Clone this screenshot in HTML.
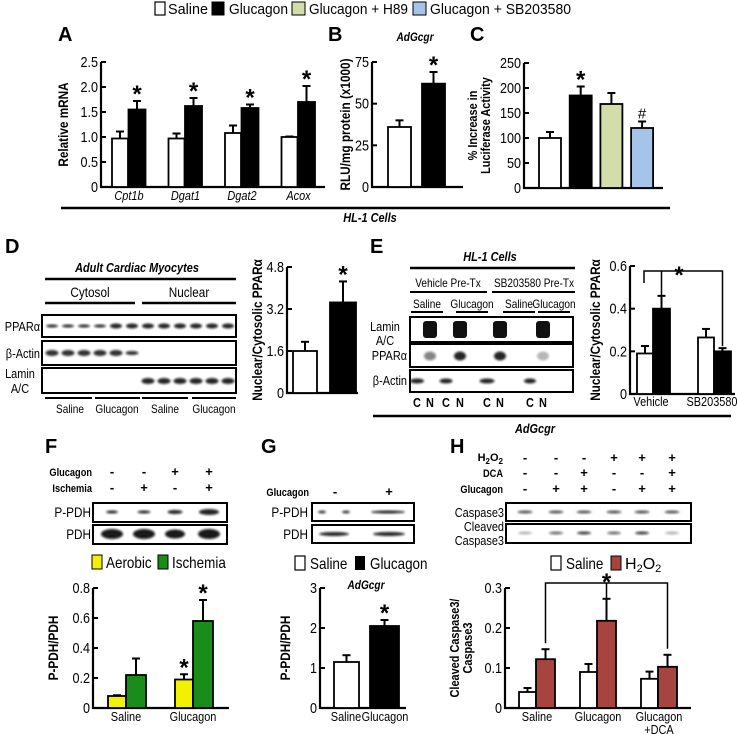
<!DOCTYPE html>
<html><head><meta charset="utf-8"><style>
html,body{margin:0;padding:0;background:#fff}
svg{display:block;font-family:"Liberation Sans",Arial,sans-serif}
</style></head><body>
<svg id="fig" width="737" height="734" viewBox="0 0 737 734" xmlns="http://www.w3.org/2000/svg">
<defs><filter id="blur" x="-20%" y="-50%" width="140%" height="200%"><feGaussianBlur stdDeviation="1.1"/></filter></defs>
<g font-size="15">
<rect x="155" y="2" width="10" height="13" fill="#fff" stroke="#000" stroke-width="1.2"/><text class="fixed" x="168" y="14" textLength="40" lengthAdjust="spacingAndGlyphs">Saline</text>
<rect x="212" y="2" width="12" height="13" fill="#000" stroke="#000"/><text class="fixed" x="229" y="14" textLength="59" lengthAdjust="spacingAndGlyphs">Glucagon</text>
<rect x="292" y="2" width="13" height="13" fill="#d2ddaa" stroke="#000"/><text class="fixed" x="309" y="14" textLength="99" lengthAdjust="spacingAndGlyphs">Glucagon + H89</text>
<rect x="413" y="2" width="13" height="13" fill="#a6c4ea" stroke="#000"/><text class="fixed" x="430" y="14" textLength="141" lengthAdjust="spacingAndGlyphs">Glucagon + SB203580</text>
</g>
<g font-weight="bold" font-size="20">
<text class="fixed" x="58" y="41">A</text><text class="fixed" x="328" y="41">B</text><text class="fixed" x="470" y="41">C</text>
<text class="fixed" x="5" y="253">D</text><text class="fixed" x="370" y="253">E</text>
<text class="fixed" x="45" y="453">F</text><text class="fixed" x="261" y="453">G</text><text class="fixed" x="450" y="453">H</text>
</g>
<g id="static"></g>
<g id="charts"></g>
</svg>
<script>
// ---------- chart data ----------
const aCategories = ["Cpt1b","Dgat1","Dgat2","Acox"];
const aSaline = [0.97,0.97,1.08,1.0];
const aSalineErr = [0.14,0.1,0.15,0.01];
const aGlucagon = [1.55,1.62,1.58,1.7];
const aGlucagonErr = [0.17,0.16,0.07,0.32];
const aTicks = ["0","0.5","1.0","1.5","2.0","2.5"];
const bValues = [36,62];
const bErr = [4,7];
const bTicks = ["0","25","50","75"];
const cValues = [100,185,168,120];
const cErr = [12,18,22,13];
const cTicks = ["0","50","100","150","200","250"];
const dValues = [1.6,3.45];
const dErr = [0.35,0.8];
const dTicks = ["0","1.6","3.2","4.8"];
const eCategories = ["Vehicle","SB203580"];
const eSaline = [0.19,0.265];
const eSalineErr = [0.035,0.04];
const eGlucagon = [0.40,0.20];
const eGlucagonErr = [0.06,0.015];
const eTicks = ["0","0.2","0.4","0.6"];
const fCategories = ["Saline","Glucagon"];
const fAerobic = [0.08,0.19];
const fAerobicErr = [0.005,0.035];
const fIschemia = [0.22,0.58];
const fIschemiaErr = [0.11,0.14];
const fTicks = ["0","0.2","0.4","0.6","0.8"];
const gCategories = ["Saline","Glucagon"];
const gValues = [1.15,2.05];
const gErr = [0.17,0.15];
const gTicks = ["0","1","2","3"];
const hCategories = ["Saline","Glucagon","Glucagon"];
const hSaline = [0.04,0.09,0.073];
const hSalineErr = [0.01,0.02,0.018];
const hH2O2 = [0.122,0.218,0.103];
const hH2O2Err = [0.025,0.055,0.03];
const hTicks = ["0","0.1","0.2","0.3"];

const NS="http://www.w3.org/2000/svg";
function mk(tag,attrs,parent,text){const e=document.createElementNS(NS,tag);for(const k in attrs)e.setAttribute(k,attrs[k]);if(text!==undefined)e.textContent=text;parent.appendChild(e);return e;}
const charts=document.getElementById('charts');
const st=document.getElementById('static');
function starTxt(g,x,y){const t=mk('text',{x:x,y:y,'text-anchor':'middle','font-size':24,'font-weight':'bold',class:'fixed'},g,'*');
  
  return t;}

function axis(name,x0,x1,y0,yTop,max,ticks,label,labelX){
  const g=mk('g',{},charts);
  
  
  const ys=v=>y0-(v/max)*(y0-yTop);
  const ax=mk('path',{d:`M${x0} ${yTop}V${y0}H${x1}`,stroke:'#000','stroke-width':2.2,fill:'none'},g);
  
  
  ticks.forEach((t,i)=>{
    const v=max*i/(ticks.length-1);const y=ys(v);
    mk('line',{x1:x0,x2:x0+5,y1:y,y2:y,stroke:'#000','stroke-width':2},g);
    const tl=mk('text',{x:x0-3,y:y+5,'text-anchor':'end','font-size':15},g,t);
    
    
  });
  if(label){
    const lines=Array.isArray(label)?label:[label];
    const cy=(y0+yTop)/2;
    lines.forEach((ln,i)=>{
      const lx=labelX+i*13;
      const t=mk('text',{x:lx,y:cy,'text-anchor':'middle','font-size':lines.length>1?13:14,'font-weight':'bold',transform:`rotate(-90 ${lx} ${cy})`},g,ln);
      
      
    });
  }
  return {g,ys,y0};
}
function bar(ax,x,w,v,err,fill,name){
  const y=ax.ys(v);
  if(err>0){
    const ye=ax.ys(v+err);
    mk('line',{x1:x+w/2,x2:x+w/2,y1:y,y2:ye,stroke:'#000','stroke-width':2},ax.g);
    mk('line',{x1:x+w/2-4,x2:x+w/2+4,y1:ye,y2:ye,stroke:'#000','stroke-width':2},ax.g);
  }
  const r=mk('rect',{x:x,y:y,width:w,height:ax.y0-y,fill:fill,stroke:'#000','stroke-width':1.8},ax.g);
  
  
  return {cx:x+w/2,top:ax.ys(v+err)};
}
function catLabel(g,x,y,txt,italic){const t=mk('text',{x:x,y:y,'text-anchor':'middle','font-size':13,'font-style':italic?'italic':'normal'},g,txt);
  
  return t;}

// Panel A
{const ax=axis('chart-a',101,325,187,62,2.5,aTicks,'Relative mRNA',68);
 aCategories.forEach((c,i)=>{const x=112+i*56.5;
  bar(ax,x,16,aSaline[i],aSalineErr[i],'#fff','bar-a-saline');
  const b=bar(ax,x+16.5,17,aGlucagon[i],aGlucagonErr[i],'#000','bar-a-glucagon');
  starTxt(ax.g,b.cx,b.top+1);
  catLabel(ax.g,x+17,200,c,true);});}
// Panel B
{const ax=axis('chart-b',372,463,187,62,75,bTicks,'RLU/mg protein (x1000)',350);
 bar(ax,388,23,bValues[0],bErr[0],'#fff','bar-b-saline');
 const b=bar(ax,422,23,bValues[1],bErr[1],'#000','bar-b-glucagon');
 starTxt(ax.g,b.cx,b.top+1);
 mk('text',{x:415,y:41,'text-anchor':'middle','font-size':12,'font-style':'italic','font-weight':'bold'},ax.g,'AdGcgr');}
// Panel C
{const ax=axis('chart-c',524,663,188,63,250,cTicks,['% Increase in','Luciferase Activity'],477);
 const fills=['#fff','#000','#d2ddaa','#a6c4ea'];
 cValues.forEach((v,i)=>{const b=bar(ax,539+i*30.7,22,v,cErr[i],fills[i],'bar-c-'+i);
  if(i===1)starTxt(ax.g,b.cx,b.top+1);
  if(i===3)mk('text',{x:b.cx,y:b.top-3,'text-anchor':'middle','font-size':15,class:'fixed'},ax.g,'#');});}
// Panel D chart
{const ax=axis('chart-d',287,358,393,267,4.8,dTicks,'Nuclear/Cytosolic PPARα',262);
 bar(ax,293,24,dValues[0],dErr[0],'#fff','bar-d-saline');
 const b=bar(ax,330,26,dValues[1],dErr[1],'#000','bar-d-glucagon');
 starTxt(ax.g,b.cx,b.top+1);}
// Panel E chart
{const ax=axis('chart-e',630,735,394,266,0.6,eTicks,'Nuclear/Cytosolic PPARα',600);
 const tops=[];
 eCategories.forEach((c,i)=>{const x=637+i*61;
  const a=bar(ax,x,16,eSaline[i],eSalineErr[i],'#fff','bar-e-saline');
  const b=bar(ax,x+16,17,eGlucagon[i],eGlucagonErr[i],'#000','bar-e-glucagon');
  tops.push([a,b]);catLabel(ax.g,x+14,406,c);});
 const yb=271;
 mk('path',{d:`M${tops[0][0].cx-1} 283V${yb}H${tops[1][1].cx}V${tops[1][1].top-2}M${tops[0][1].cx} ${yb}V${tops[0][1].top}`,stroke:'#000','stroke-width':1.5,fill:'none'},ax.g);
 starTxt(ax.g,679,283);}
// Panel F chart
{const ax=axis('chart-f',93,229,708,588,0.8,fTicks,'P-PDH/PDH',58);
 fCategories.forEach((c,i)=>{const x=108+i*67;
  const a=bar(ax,x,18,fAerobic[i],fAerobicErr[i],'#f2f200','bar-f-aerobic');
  const b=bar(ax,x+18,20,fIschemia[i],fIschemiaErr[i],'#1a8c1a','bar-f-ischemia');
  if(i===1){starTxt(ax.g,a.cx,a.top+1);starTxt(ax.g,b.cx,b.top+1);}
  catLabel(ax.g,x+18,721,c);});}
// Panel G chart
{const ax=axis('chart-g',320,406,708,588,3,gTicks,'P-PDH/PDH',290);
 bar(ax,334,25,gValues[0],gErr[0],'#fff','bar-g-saline');
 const b=bar(ax,370,29,gValues[1],gErr[1],'#000','bar-g-glucagon');
 starTxt(ax.g,b.cx,b.top+1);
 catLabel(ax.g,346,721,gCategories[0]);catLabel(ax.g,385,721,gCategories[1]);
 mk('text',{x:366,y:589,'text-anchor':'middle','font-size':12,'font-style':'italic','font-weight':'bold'},ax.g,'AdGcgr');}
// Panel H chart
{const ax=axis('chart-h',505,691,708,588,0.3,hTicks,['Cleaved Caspase3/','Caspase3'],459);
 const tops=[];
 hCategories.forEach((c,i)=>{const x=519+i*61;
  const a=bar(ax,x,17,hSaline[i],hSalineErr[i],'#fff','bar-h-saline');
  const b=bar(ax,x+17,19,hH2O2[i],hH2O2Err[i],'#a8443f','bar-h-h2o2');
  tops.push(b);catLabel(ax.g,x+18,721,c);});
 catLabel(ax.g,659,734,'+DCA');
 const yb=583;
 mk('path',{d:`M${tops[0].cx} ${tops[0].top-6}V${yb}H${tops[2].cx}V${tops[2].top-6}M${tops[1].cx} ${yb}V${tops[1].top}`,stroke:'#000','stroke-width':1.5,fill:'none'},ax.g);
 starTxt(ax.g,tops[1].cx,590);}

// ---------- static annotations / blots ----------
function line(x1,y1,x2,y2,w){mk('line',{x1,y1,x2,y2,stroke:'#000','stroke-width':w||2},st);}
function txt(x,y,s,o){const a=Object.assign({x,y,'font-size':12},o||{});return mk('text',a,st,s);}
function box(x,y,w,h,name){const r=mk('rect',{x,y,width:w,height:h,fill:'#fff',stroke:'#000','stroke-width':2},st);}
function band(cx,cy,w,h,op){mk('ellipse',{cx,cy,rx:w/2,ry:h/2,fill:'#111',opacity:op,filter:'url(#blur)'},st);}
line(61,208,670,208,2.5);
txt(370,222,'HL-1 Cells',{'text-anchor':'middle','font-weight':'bold','font-style':'italic','font-size':13});
// Panel D blot
txt(137,272,'Adult Cardiac Myocytes',{'text-anchor':'middle','font-weight':'bold','font-style':'italic','font-size':13});
line(45,279,236,279,2.5);
txt(90,297,'Cytosol',{'text-anchor':'middle','font-size':14});txt(189,297,'Nuclear',{'text-anchor':'middle','font-size':14});
line(45,303,135,303,2.5);line(142,303,236,303,2.5);
box(42,315,194,22,'blot-d-ppara');box(42,341,194,24,'blot-d-actin');box(42,368,194,25,'blot-d-lamin');
for(let i=0;i<12;i++){band(52+i*16,326,12,i<4?3:5,0.9);}
for(let i=0;i<6;i++){band(52+i*16,353,13,i<5?6:4,0.85);}
for(let i=6;i<12;i++){band(52+i*16,381,13,6,0.9);}
txt(40,331,'PPARα',{'font-size':13,'text-anchor':'end'});txt(40,358,'β-Actin',{'font-size':13,'text-anchor':'end'});
txt(20,378,'Lamin',{'text-anchor':'middle','font-size':13});txt(20,393,'A/C',{'text-anchor':'middle','font-size':13});
[[45,92],[95,140],[142,188],[192,236]].forEach(s=>line(s[0],398,s[1],398,2));
['Saline','Glucagon','Saline','Glucagon'].forEach((s,i)=>txt([70,117,165,214][i],413,s,{'text-anchor':'middle','font-size':12}));
// Panel E blot
txt(490,261,'HL-1 Cells',{'text-anchor':'middle','font-weight':'bold','font-style':'italic','font-size':13});
line(410,268,575,268,2.5);
txt(448,287,'Vehicle Pre-Tx',{'text-anchor':'middle','font-size':12});txt(534,287,'SB203580 Pre-Tx',{'text-anchor':'middle','font-size':12});
line(410,292,487,292,2);line(492,292,575,292,2);
[427,472,519,554].forEach((x,i)=>{txt(x,308,i%2?'Glucagon':'Saline',{'text-anchor':'middle','font-size':12});line(x-16,312,x+16,312,2);});
box(410,317,163,25,'blot-e-lamin');box(410,344,163,23,'blot-e-ppara');box(410,370,163,22,'blot-e-actin');
[430,460,500,543].forEach(x=>{mk('rect',{x:x-7,y:321,width:14,height:17,rx:3,fill:'#111'},st);});
[[430,0.5],[460,0.9],[500,0.9],[543,0.3]].forEach(p=>band(p[0],356,12,9,p[1]));
[[417,14],[446,13],[487,15],[530,12]].forEach(p=>band(p[0],381,p[1],5,0.9));
txt(385,331,'Lamin',{'text-anchor':'middle','font-size':13});txt(385,345,'A/C',{'text-anchor':'middle','font-size':13});
txt(407,360,'PPARα',{'font-size':13,'text-anchor':'end'});txt(407,385,'β-Actin',{'font-size':13,'text-anchor':'end'});
[417,446,487,530].forEach(x=>txt(x,407,'C',{'text-anchor':'middle','font-weight':'bold','font-size':13}));
[430,460,500,543].forEach(x=>txt(x,407,'N',{'text-anchor':'middle','font-weight':'bold','font-size':13}));
line(373,416,731,416,2.5);
txt(535,433,'AdGcgr',{'text-anchor':'middle','font-weight':'bold','font-style':'italic','font-size':13});
// Panel F
txt(92,476,'Glucagon',{'text-anchor':'end','font-size':11,'font-weight':'bold'});
txt(92,492,'Ischemia',{'text-anchor':'end','font-size':11,'font-weight':'bold'});
const fcols=[112,144,175,209];['-','-','+','+'].forEach((s,i)=>txt(fcols[i],476,s,{'text-anchor':'middle','font-weight':'bold','font-size':13,class:'fixed'}));
['-','+','-','+'].forEach((s,i)=>txt(fcols[i],492,s,{'text-anchor':'middle','font-weight':'bold','font-size':13,class:'fixed'}));
box(93,503,134,19,'blot-f-ppdh');box(93,525,134,19,'blot-f-pdh');
[[112,12,3],[144,13,3],[175,15,4],[209,20,6]].forEach(p=>band(p[0],512,p[1],p[2],0.9));
[[112,22,10],[144,22,10],[175,20,9],[209,22,10]].forEach(p=>band(p[0],534,p[1],p[2],0.95));
txt(91,517,'P-PDH',{'text-anchor':'end','font-size':14});txt(91,539,'PDH',{'text-anchor':'end','font-size':14});
mk('rect',{x:92,y:555,width:10,height:14,fill:'#f2f200',stroke:'#000'},st);txt(106,568,'Aerobic',{'font-size':16});
mk('rect',{x:158,y:555,width:10,height:14,fill:'#1a8c1a',stroke:'#000'},st);txt(172,568,'Ischemia',{'font-size':16});
// Panel G
txt(309,496,'Glucagon',{'text-anchor':'end','font-size':11,'font-weight':'bold'});
txt(335,496,'-',{'text-anchor':'middle','font-weight':'bold','font-size':13,class:'fixed'});txt(389,496,'+',{'text-anchor':'middle','font-weight':'bold','font-size':13,class:'fixed'});
box(312,503,102,18,'blot-g-ppdh');box(312,525,102,18,'blot-g-pdh');
[[322,8],[346,8]].forEach(p=>band(p[0],512,p[1],3,0.8));band(388,512,34,3,0.9);
band(334,534,30,4,0.9);band(389,534,32,4,0.9);
txt(308,517,'P-PDH',{'text-anchor':'end','font-size':14});txt(308,539,'PDH',{'text-anchor':'end','font-size':14});
mk('rect',{x:295,y:556,width:10,height:14,fill:'#fff',stroke:'#000','stroke-width':1.2},st);txt(310,569,'Saline',{'font-size':16});
mk('rect',{x:355,y:556,width:10,height:14,fill:'#000'},st);txt(370,569,'Glucagon',{'font-size':16});
// Panel H
const hcols=[525,556,584,614,642,672];
const hT=mk('text',{x:503,y:461,'text-anchor':'end','font-size':11,'font-weight':'bold',class:'fixed'},st);
mk('tspan',{},hT,'H');mk('tspan',{dy:'3','font-size':8},hT,'2');mk('tspan',{dy:'-3'},hT,'O');mk('tspan',{dy:'3','font-size':8},hT,'2');
txt(503,477,'DCA',{'text-anchor':'end','font-size':11,'font-weight':'bold'});
txt(503,493,'Glucagon',{'text-anchor':'end','font-size':11,'font-weight':'bold'});
[['-','-','-','+','+','+',462],['-','-','+','-','-','+',477],['-','+','+','-','+','+',493]].forEach(r=>{for(let i=0;i<6;i++)txt(hcols[i],r[6],r[i],{'text-anchor':'middle','font-weight':'bold','font-size':13,class:'fixed'});});
box(506,503,185,18,'blot-h-caspase3');box(506,524,185,19,'blot-h-cleaved');
hcols.forEach(x=>band(x,512,15,3,0.7));
[[525,0.3],[556,0.6],[584,0.8],[614,0.6],[642,0.8],[672,0.3]].forEach(p=>band(p[0],533,14,3,p[1]));
txt(504,517,'Caspase3',{'text-anchor':'end','font-size':13});
txt(504,531,'Cleaved',{'text-anchor':'end','font-size':13});txt(504,545,'Caspase3',{'text-anchor':'end','font-size':13});
mk('rect',{x:551,y:556,width:10,height:14,fill:'#fff',stroke:'#000','stroke-width':1.2},st);txt(566,569,'Saline',{'font-size':16});
mk('rect',{x:611,y:556,width:10,height:14,fill:'#a8443f',stroke:'#000'},st);
const ht=txt(625,569,'',{'font-size':16,class:'fixed'});mk('tspan',{},ht,'H');mk('tspan',{dy:'3','font-size':11},ht,'2');mk('tspan',{dy:'-3'},ht,'O');mk('tspan',{dy:'3','font-size':11},ht,'2');

// narrow all text to mimic condensed face
document.querySelectorAll('#fig text').forEach(t=>{
  if(t.classList.contains('fixed'))return;
  const L=t.getComputedTextLength();
  if(L>0){t.setAttribute('textLength',(L*0.84).toFixed(1));t.setAttribute('lengthAdjust','spacingAndGlyphs');}
});
</script>
</body></html>
